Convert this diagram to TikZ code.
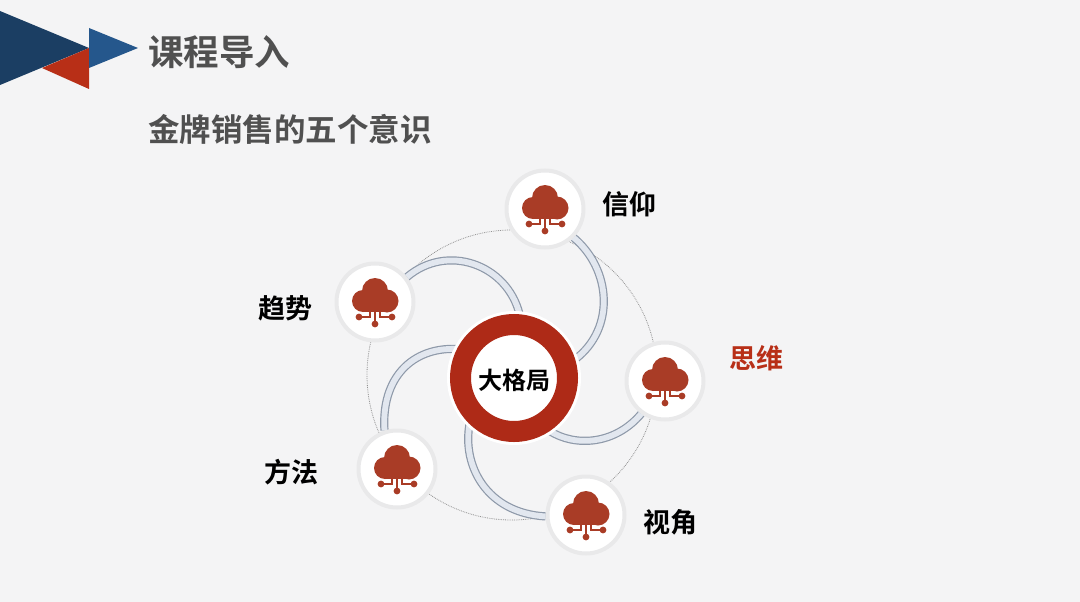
\documentclass[tikz,border=0pt]{standalone}
\usepackage{fontspec}
\newfontfamily\cjk[BoldFont={Noto Sans CJK SC Bold}]{Noto Sans CJK SC}
\definecolor{bgc}{HTML}{F4F4F5}
\definecolor{navy}{HTML}{1B3E63}
\definecolor{blu}{HTML}{25578C}
\definecolor{tri}{HTML}{B82F17}
\definecolor{ringc}{HTML}{AE2A17}
\definecolor{ico}{HTML}{A93C26}
\definecolor{halo}{HTML}{E9E9EA}
\definecolor{ttl}{HTML}{505050}
\definecolor{edgec}{HTML}{8E99A9}
\definecolor{bandc}{HTML}{E2E7EF}
\pgfdeclarelayer{under}
\pgfsetlayers{under,main}
\tikzset{
  x=1pt,y=-1pt,
  bubble/.style={circle,draw=halo,fill=white,line width=4pt,minimum size=77pt,inner sep=0pt},
  hub/.style={circle,draw=ringc,fill=white,line width=21pt,minimum size=107pt,inner sep=0pt,
    preaction={draw=white,line width=27pt}},
  band/.style={draw=edgec,line width=1.2pt,double=bandc,double distance=5.8pt},
  lab/.style={font=\cjk\bfseries\fontsize{27}{27}\selectfont,text=black,inner sep=0pt},
  head/.style={font=\cjk\bfseries,text=ttl,inner sep=0pt,anchor=west},
  cloudicon/.pic={
    \fill[ico] (0,-11) circle (13) (-12,-1) circle (11) (12,-1) circle (11.5);
    \fill[ico] (-12,-10) rectangle (12,10);
    \draw[ico,line width=2pt] (0,8) -- (0,22);
    \draw[ico,line width=2pt] (-5,8) -- (-5,15) -- (-16,15);
    \draw[ico,line width=2pt] (5,8) -- (5,15) -- (17,15);
    \fill[ico] (0,22) circle (3.4) (-16,15) circle (3.4) (17,15) circle (3.4);
  }
}
\begin{document}
\begin{tikzpicture}
\useasboundingbox (0,0) rectangle (1080,602);
\begin{pgfonlayer}{under}
  \fill[bgc] (0,0) rectangle (1080,602);
  \fill[navy] (0,11) -- (89,48) -- (0,85) -- cycle;
  \fill[tri] (42,68) -- (89,48) -- (89,89) -- cycle;
  \fill[blu] (89,28) -- (138,48) -- (89,68) -- cycle;
  \draw[gray!85,line width=0.8pt,densely dotted] (512,375) circle (145);
\end{pgfonlayer}

\node[head,font=\cjk\bfseries\fontsize{35.5}{36}\selectfont] (title) at (148,52) {课程导入};
\node[head,font=\cjk\bfseries\fontsize{31.5}{32}\selectfont] (sub) at (148,129) {金牌销售的五个意识};

\node[hub] (hubn) at (514,378) {};
\node[font=\cjk\bfseries\fontsize{24}{24}\selectfont,text=black,inner sep=0pt] (hubt) at (514.5,380) {大格局};

\node[bubble] (xin) at (545,209) {};
\node[bubble] (qu) at (375,302) {};
\node[bubble] (si) at (665,381) {};
\node[bubble] (fang) at (397,469) {};
\node[bubble] (shi) at (586,515) {};
\pic at (xin) {cloudicon};
\pic at (qu) {cloudicon};
\pic at (si) {cloudicon};
\pic at (fang) {cloudicon};
\pic at (shi) {cloudicon};

\node[lab] (lxin) at (629,204) {信仰};
\node[lab] (lqu) at (285.5,308) {趋势};
\node[lab,text=tri] (lsi) at (756,358) {思维};
\node[lab] (lfang) at (291,472) {方法};
\node[lab] (lshi) at (670.5,522) {视角};

\begin{pgfonlayer}{under}
  \draw[band] (xin.-45) .. controls (611,269) and (616,328) .. (hubn.17);
  \draw[band] (qu.38) .. controls (447,243) and (507,264) .. (hubn.85);
  \draw[band] (hubn.153) .. controls (412,347) and (381,378) .. (fang.108);
  \draw[band] (hubn.226) .. controls (462,465) and (486,513) .. (shi.182);
  \draw[band] (hubn.304) .. controls (575,447) and (615,445) .. (si.234);
\end{pgfonlayer}
\end{tikzpicture}
\end{document}
